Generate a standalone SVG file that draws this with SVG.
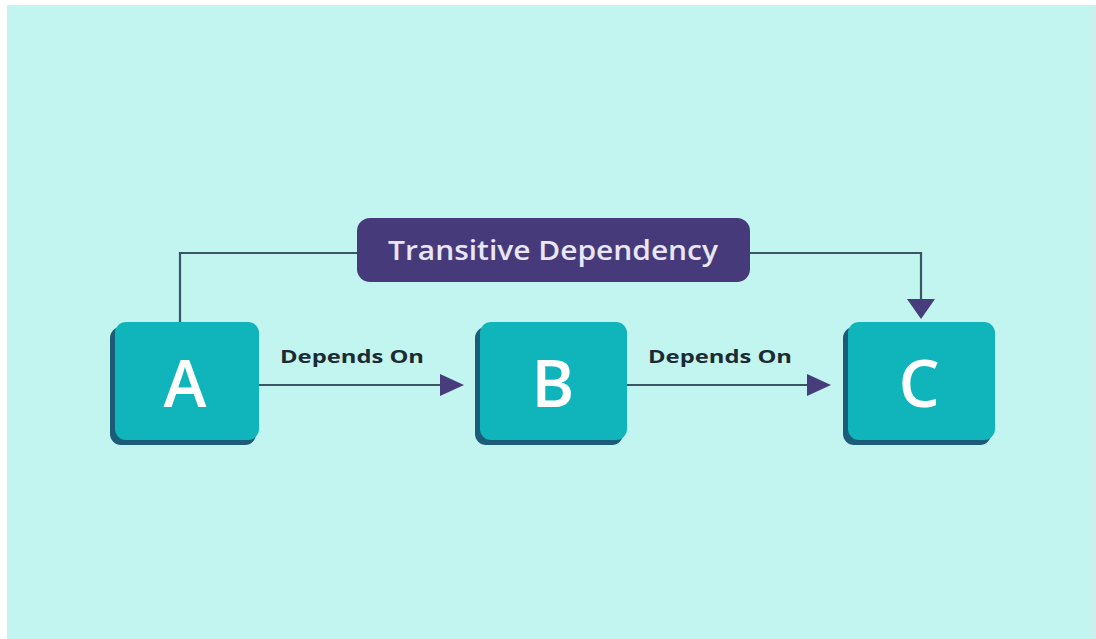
<svg xmlns="http://www.w3.org/2000/svg" width="1096" height="639" viewBox="0 0 1096 639">
<defs>
<style>
.shadow{fill:#1d5c78}
.box{fill:#0fb5ba}
.letter{font-family:"Open Sans",sans-serif;font-weight:600;font-size:65px;fill:#ffffff;text-anchor:middle}
.lbl{font-family:"Open Sans",sans-serif;font-weight:700;font-size:18px;fill:#1c2b33;text-anchor:middle}
.conn{fill:none;stroke:#3b5566;stroke-width:2.2}
.pilltext{font-family:"Open Sans",sans-serif;font-weight:600;font-size:27px;fill:#e9e6f7;text-anchor:middle}
</style>
</defs>
<rect x="0" y="0" width="1096" height="639" fill="#ffffff"/>
<rect x="7" y="5" width="1084" height="634" fill="#c2f5f0"/>
<rect x="1091" y="5" width="5" height="634" fill="#cdf0ed"/>
<g id="connectors">
<polyline class="conn" points="180,322 180,253 357,253"/>
<polyline class="conn" points="750,253 921,253 921,302"/>
<path d="M907,299 L935,299 L921,319 Z" fill="#473c7c"/>
<line class="conn" x1="259" y1="385" x2="442" y2="385"/>
<path d="M440,374 L464,385 L440,396 Z" fill="#473c7c"/>
<line class="conn" x1="627" y1="385" x2="809" y2="385"/>
<path d="M807,374 L831,385 L807,396 Z" fill="#473c7c"/>
<text class="lbl" x="352" y="363" textLength="144" lengthAdjust="spacingAndGlyphs">Depends On</text>
<text class="lbl" x="720" y="363" textLength="144" lengthAdjust="spacingAndGlyphs">Depends On</text>
</g>
<g id="transitive">
<rect x="357" y="218" width="393" height="64" rx="13" fill="#463a7b"/>
<text class="pilltext" x="553" y="260" textLength="330" lengthAdjust="spacingAndGlyphs">Transitive Dependency</text>
</g>
<g id="nodeA">
<rect class="shadow" x="110" y="327" width="146" height="118" rx="11"/>
<rect class="box" x="115" y="322" width="144" height="118" rx="11"/>
<text class="letter" x="185" y="407">A</text>
</g>
<g id="nodeB">
<rect class="shadow" x="475" y="327" width="148" height="118" rx="11"/>
<rect class="box" x="480" y="322" width="147" height="118" rx="11"/>
<text class="letter" x="553" y="407">B</text>
</g>
<g id="nodeC">
<rect class="shadow" x="843" y="327" width="148" height="118" rx="11"/>
<rect class="box" x="848" y="322" width="147" height="118" rx="11"/>
<text class="letter" x="919" y="407">C</text>
</g>
</svg>
